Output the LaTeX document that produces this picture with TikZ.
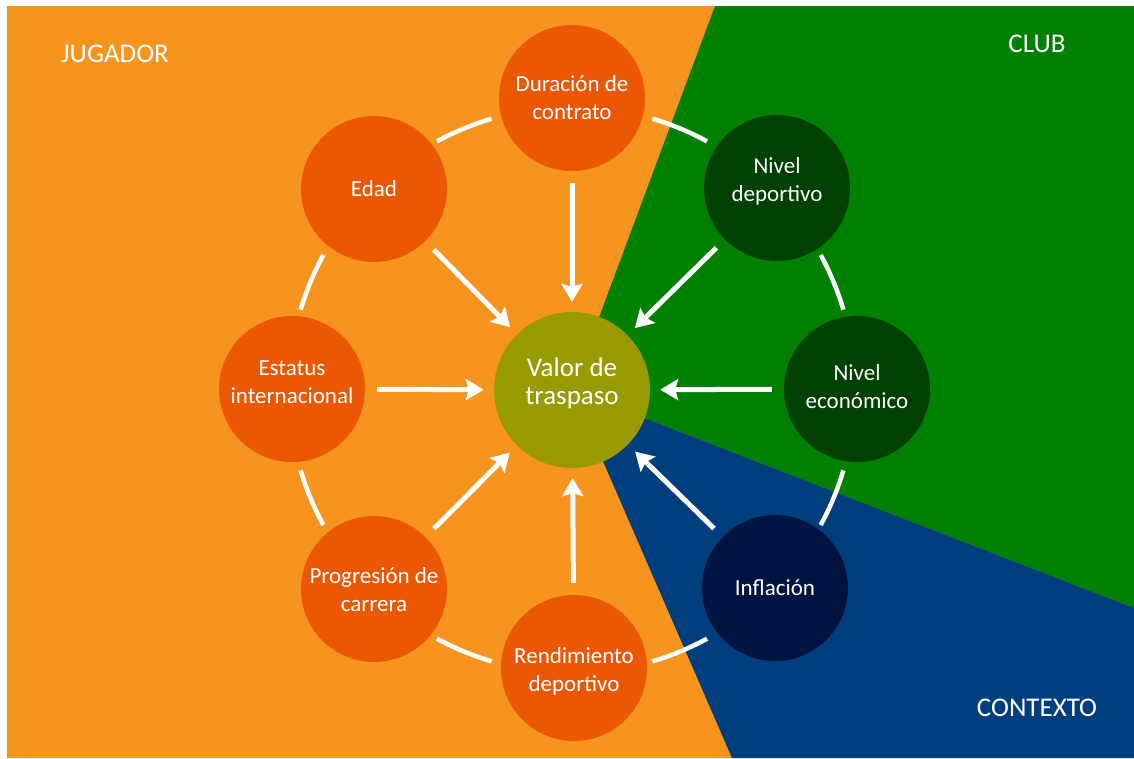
\documentclass[tikz,border=0pt]{standalone}
\usepackage{fontspec}
\setmainfont{Carlito}
\usetikzlibrary{arrows.meta}
\definecolor{bgorange}{RGB}{247,148,30}
\definecolor{bggreen}{RGB}{0,128,0}
\definecolor{bgblue}{RGB}{0,62,126}
\definecolor{corange}{RGB}{236,87,4}
\definecolor{colive}{RGB}{153,153,0}
\definecolor{cdgreen}{RGB}{0,64,0}
\definecolor{cnavy}{RGB}{0,20,66}
\tikzset{
  circ/.style={circle, minimum size=146pt, inner sep=0pt},
  ocirc/.style={circ, fill=corange},
  gcirc/.style={circ, fill=cdgreen},
  ncirc/.style={circ, fill=cnavy},
  lbl/.style={text=white, align=center, inner sep=0pt, font=\fontsize{23}{28}\selectfont},
  arr/.style={draw=white, line width=5pt, -{Stealth[length=18pt,width=21pt,inset=3pt]},
    shorten <=12pt, shorten >=10pt},
  ring/.style={draw=white, line width=4.5pt},
  region/.style={text=white, font=\fontsize{27}{32}\selectfont}
}
\begin{document}
\begin{tikzpicture}[x=1pt,y=-1pt]
\useasboundingbox (0,0) rectangle (1134,758);
\fill[white] (0,0) rectangle (1134,758);
\fill[bgorange] (7,6) rectangle (1134,758);
\fill[bggreen] (572,390) -- (715,6) -- (1134,6) -- (1134,608) -- cycle;
\fill[bgblue] (572,390) -- (1134,608) -- (1134,758) -- (732,758) -- cycle;
% ring arcs
\foreach \a in {22.5,67.5,112.5,157.5,202.5,247.5,292.5,337.5}{
  \draw[ring] ({572+283*cos(\a-6)},{390-283*sin(\a-6)}) arc[start angle={-(\a-6)}, end angle={-(\a+6)}, radius=283];
}
\node[circ, fill=colive, minimum size=156pt] (valor) at (572,390) {};
\node[ocirc] (dur) at (572,98) {};
\node[gcirc] (ndep) at (777,188) {};
\node[gcirc] (neco) at (857,389) {};
\node[ncirc] (infl) at (775,588) {};
\node[ocirc] (rend) at (574,668) {};
\node[ocirc] (prog) at (374,589) {};
\node[ocirc] (estat) at (292,389) {};
\node[ocirc] (edad) at (374,189) {};
\node[lbl, font=\fontsize{27}{28}\selectfont] (tvalor) at ([yshift=7pt]valor.center) {Valor de\\traspaso};
\node[lbl] (tdur) at (dur.center) {Duración de\\contrato};
\node[lbl] (tndep) at ([yshift=7pt]ndep.center) {Nivel\\deportivo};
\node[lbl] (tneco) at ([yshift=2pt]neco.center) {Nivel\\económico};
\node[lbl] (tinfl) at (infl.center) {Inflación};
\node[lbl] (trend) at ([yshift=-3pt]rend.center) {Rendimiento\\deportivo};
\node[lbl] (tprog) at ([yshift=-1pt]prog.center) {Progresión de\\carrera};
\node[lbl] (testat) at ([yshift=7pt]estat.center) {Estatus\\internacional};
\node[lbl] (tedad) at (edad.center) {Edad};
\foreach \n in {dur,ndep,neco,infl,rend,prog,estat,edad}{
  \draw[arr] (\n) -- (valor);
}
\node[region] (jug) at (115,54) {JUGADOR};
\node[region] (club) at (1037,44) {CLUB};
\node[region] (ctx) at (1037,708) {CONTEXTO};
\end{tikzpicture}
\end{document}
